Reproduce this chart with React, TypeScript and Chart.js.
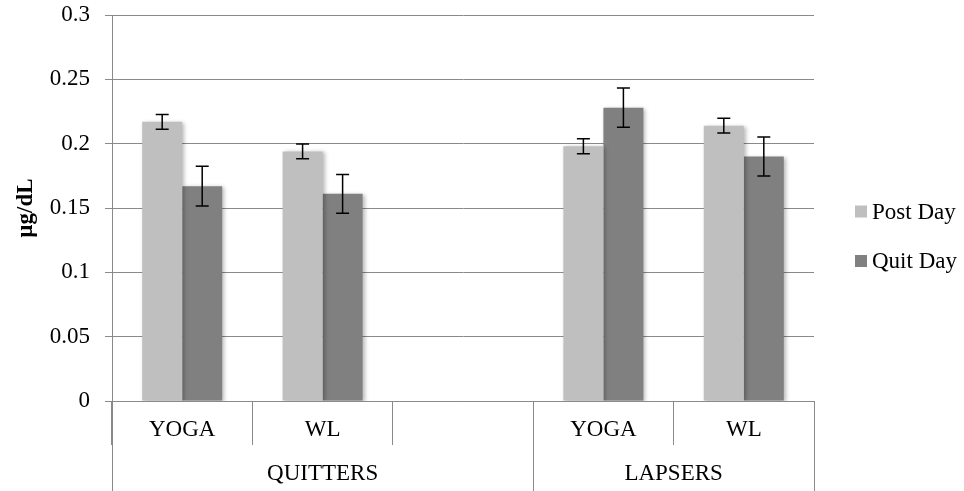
import React, { useEffect, useRef } from "react";
import { Chart, registerables } from "chart.js";

Chart.register(...registerables);

const categories = ["YOGA", "WL", "", "YOGA", "WL"];
const groupLabels = ["QUITTERS", "LAPSERS"];
// group spans: [startIndex, endIndex] inclusive
const groupStarts = [0, 3];
const groupEnds = [2, 4];
const seriesNames = ["Post Day", "Quit Day"];
const postDay = [0.217, 0.194, null, 0.198, 0.214];
const quitDay = [0.167, 0.161, null, 0.228, 0.19];
const postErr = [0.0057, 0.0058, null, 0.0058, 0.0057];
const quitErr = [0.0155, 0.015, null, 0.0152, 0.0152];
const yTicks = [0, 0.05, 0.1, 0.15, 0.2, 0.25, 0.3];
const yTitle = "µg/dL";

const COLORS = ["#BFBFBF", "#808080"];
const GRID = "#8a8a8a";
const FONT = "'Liberation Serif', 'Times New Roman', serif";
const FS = 23;

export default function App() {
  const ref = useRef<HTMLCanvasElement | null>(null);

  useEffect(() => {
    const canvas = ref.current;
    if (!canvas) return;
    const errs = [postErr, quitErr];

    const shadowPlugin = {
      id: "shadow",
      beforeDatasetsDraw(chart: any) {
        const ctx = chart.ctx;
        ctx.save();
        ctx.shadowColor = "rgba(0,0,0,0.28)";
        ctx.shadowBlur = 4;
        ctx.shadowOffsetX = 2;
        ctx.shadowOffsetY = 1;
      },
      afterDatasetsDraw(chart: any) {
        chart.ctx.restore();
      },
    };

    const extras = {
      id: "extras",
      afterDatasetsDraw(chart: any) {
        const ctx = chart.ctx;
        const y = chart.scales.y;
        const x = chart.scales.x;
        // error bars
        ctx.save();
        ctx.strokeStyle = "#000";
        ctx.lineWidth = 1.5;
        chart.data.datasets.forEach((ds: any, di: number) => {
          const meta = chart.getDatasetMeta(di);
          meta.data.forEach((bar: any, i: number) => {
            const v = ds.data[i];
            const e = errs[di][i];
            if (v == null || e == null) return;
            const cx = bar.x;
            const yt = y.getPixelForValue(v + e);
            const yb = y.getPixelForValue(v - e);
            const hw = 6.5;
            ctx.beginPath();
            ctx.moveTo(cx, yt);
            ctx.lineTo(cx, yb);
            ctx.moveTo(cx - hw, yt);
            ctx.lineTo(cx + hw, yt);
            ctx.moveTo(cx - hw, yb);
            ctx.lineTo(cx + hw, yb);
            ctx.stroke();
          });
        });
        ctx.restore();

        // group dividers & labels
        ctx.save();
        const half = (x.getPixelForValue(1) - x.getPixelForValue(0)) / 2;
        ctx.strokeStyle = GRID;
        ctx.lineWidth = 1;
        const bounds = new Set<number>();
        groupStarts.forEach((s, gi) => {
          bounds.add(Math.round(x.getPixelForValue(s) - half));
          bounds.add(Math.round(x.getPixelForValue(groupEnds[gi]) + half));
        });
        bounds.forEach((bx) => {
          ctx.beginPath();
          ctx.moveTo(bx + 0.5, y.bottom);
          ctx.lineTo(bx + 0.5, chart.height);
          ctx.stroke();
        });
        ctx.fillStyle = "#000";
        ctx.font = `${FS}px ${FONT}`;
        ctx.textAlign = "center";
        ctx.textBaseline = "middle";
        groupLabels.forEach((g, gi) => {
          const l = x.getPixelForValue(groupStarts[gi]) - half;
          const r = x.getPixelForValue(groupEnds[gi]) + half;
          ctx.fillText(g, (l + r) / 2, y.bottom + 73);
        });

        // y title
        ctx.save();
        ctx.translate(26, (y.top + y.bottom) / 2);
        ctx.rotate(-Math.PI / 2);
        ctx.font = `bold ${FS}px ${FONT}`;
        ctx.fillText(yTitle, 0, 0);
        ctx.restore();

        // legend
        ctx.textAlign = "left";
        ctx.font = `${FS}px ${FONT}`;
        seriesNames.forEach((n, i) => {
          const cy = 211.5 + i * 49.5;
          ctx.fillStyle = COLORS[i];
          ctx.fillRect(855, cy - 6, 12, 12);
          ctx.fillStyle = "#000";
          ctx.fillText(n, 872, cy + 1);
        });
        ctx.restore();
      },
    };

    const chart = new Chart(canvas, {
      type: "bar",
      data: {
        labels: categories,
        datasets: [
          { label: seriesNames[0], data: postDay as any, backgroundColor: COLORS[0] },
          { label: seriesNames[1], data: quitDay as any, backgroundColor: COLORS[1] },
        ],
      },
      options: {
        animation: false,
        responsive: false,
        maintainAspectRatio: false,
        layout: { padding: { top: 15, right: 150, left: 0, bottom: 0 } },
        plugins: { legend: { display: false }, tooltip: { enabled: false } },
        datasets: { bar: { categoryPercentage: 0.57, barPercentage: 1.0 } },
        scales: {
          x: {
            grid: {
              drawOnChartArea: false,
              drawTicks: true,
              tickLength: 44,
              color: GRID,
              offset: true,
            },
            border: { color: GRID, width: 1 },
            ticks: {
              color: "#000",
              font: { family: FONT, size: FS },
              padding: -29,
              maxRotation: 0,
              autoSkip: false,
            },
            afterFit(scale: any) {
              scale.height = 90;
              scale.paddingLeft = 0;
              scale.paddingRight = 0;
            },
          },
          y: {
            min: 0,
            max: 0.3,
            afterBuildTicks(scale: any) {
              scale.ticks = yTicks.map((v) => ({ value: v }));
            },
            grid: { color: GRID, tickLength: 7, lineWidth: 1 },
            border: { color: GRID, width: 1 },
            ticks: {
              color: "#000",
              font: { family: FONT, size: FS },
              padding: 15,
              callback: (v: any) => String(Number(Number(v).toFixed(2))),
            },
            afterFit(scale: any) {
              scale.width = 112;
              scale.paddingTop = 0;
              scale.paddingBottom = 0;
            },
          },
        },
      },
      plugins: [shadowPlugin, extras],
    });
    return () => chart.destroy();
  }, []);

  return (
    <div style={{ position: "fixed", left: 0, top: 0, width: 964, height: 491, background: "#fff" }}>
      <canvas ref={ref} width={964} height={491} style={{ width: 964, height: 491 }} />
    </div>
  );
}
